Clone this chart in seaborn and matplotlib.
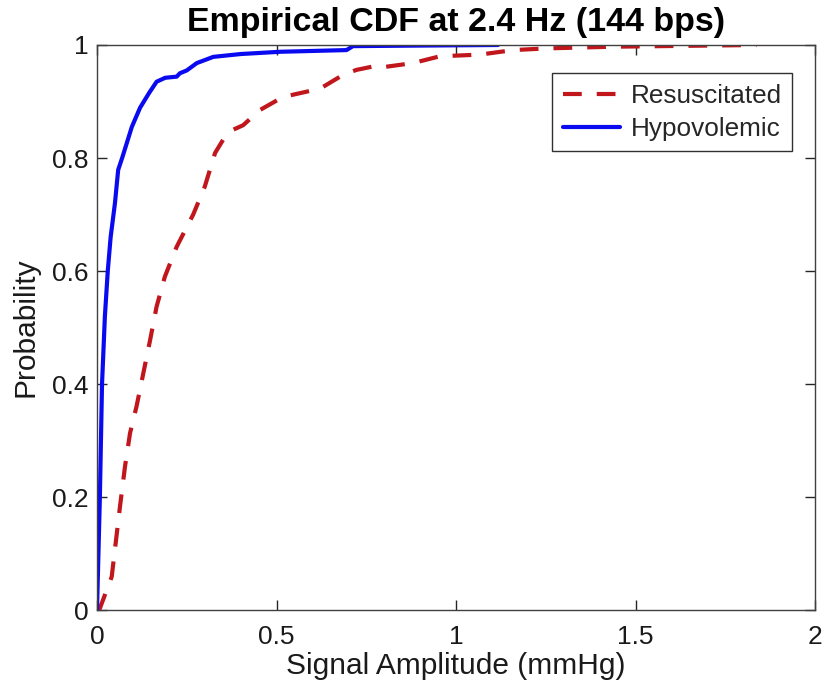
import numpy as np
import pandas as pd
import matplotlib
matplotlib.use("Agg")
import matplotlib.pyplot as plt
import matplotlib.ticker as mticker
import seaborn as sns

# Resuscitated (red dashed)
resus_x = [0.0, 0.008, 0.041, 0.064, 0.078, 0.092, 0.110, 0.129, 0.148, 0.166, 0.189,
           0.222, 0.268, 0.300, 0.329, 0.351, 0.379, 0.407, 0.454, 0.518, 0.602,
           0.630, 0.685, 0.723, 0.769, 0.788, 0.880, 0.955, 1.067, 1.159, 1.253,
           1.440, 1.837]
resus_y = [0.0, 0.003, 0.059, 0.183, 0.254, 0.313, 0.360, 0.419, 0.478, 0.537, 0.590,
           0.643, 0.700, 0.749, 0.809, 0.832, 0.850, 0.858, 0.885, 0.908, 0.920,
           0.926, 0.947, 0.956, 0.962, 0.960, 0.968, 0.980, 0.983, 0.991, 0.994,
           0.997, 1.000]

# Hypovolemic (blue solid)
hypo_x = [0.0, 0.004, 0.008, 0.014, 0.022, 0.030, 0.038, 0.050, 0.059, 0.070, 0.097,
          0.120, 0.145, 0.166, 0.190, 0.222, 0.231, 0.250, 0.278, 0.324, 0.400,
          0.510, 0.695, 0.713, 0.900, 1.117]
hypo_y = [0.0, 0.10, 0.20, 0.40, 0.52, 0.60, 0.66, 0.72, 0.779, 0.80, 0.855,
          0.889, 0.915, 0.935, 0.942, 0.944, 0.950, 0.955, 0.968, 0.979, 0.984,
          0.988, 0.991, 0.998, 0.999, 1.000]

xticks = [0, 0.5, 1, 1.5, 2]
yticks = [0, 0.2, 0.4, 0.6, 0.8, 1]

sns.set_theme(style="white")
plt.rcParams['font.family'] = ['Liberation Sans', 'DejaVu Sans']

fig = plt.figure(figsize=(8.22, 6.87), dpi=100)
ax = fig.add_axes([0.118, 0.112, 0.8735, 0.8225])

df_r = pd.DataFrame({"x": resus_x, "y": resus_y})
df_h = pd.DataFrame({"x": hypo_x, "y": hypo_y})

LW = 3.0
sns.lineplot(data=df_r, x="x", y="y", ax=ax, color="#C0161C", linewidth=LW,
             label="Resuscitated", sort=False)
ax.lines[-1].set_dashes((4.5, 3.6))
sns.lineplot(data=df_h, x="x", y="y", ax=ax, color="#0A0AF0", linewidth=LW,
             label="Hypovolemic", sort=False)

ax.set_xlim(0, 2)
ax.set_ylim(0, 1)
ax.set_xticks(xticks)
ax.set_yticks(yticks)
ax.xaxis.set_major_formatter(mticker.FormatStrFormatter('%g'))
ax.yaxis.set_major_formatter(mticker.FormatStrFormatter('%g'))
ax.tick_params(direction='in', length=7, width=1, colors='#262626',
               labelcolor='#1a1a1a', labelsize=19, top=True, right=True,
               bottom=True, left=True)
ax.tick_params(axis='x', pad=11)
ax.tick_params(axis='y', pad=6)
for s in ax.spines.values():
    s.set_color('#404040')
    s.set_linewidth(1.0)
    s.set_visible(True)

ax.set_xlabel("Signal Amplitude (mmHg)", fontsize=21.5, color='#1a1a1a', labelpad=2)
ax.set_ylabel("Probability", fontsize=21.5, color='#1a1a1a')
ax.yaxis.set_label_coords(-0.08, 0.5)
ax.set_title("Empirical CDF at 2.4 Hz (144 bps)", fontsize=24.5, fontweight='bold',
             color='black', pad=10)

leg = ax.legend(loc='upper right', bbox_to_anchor=(0.968, 0.950), borderaxespad=0,
                fontsize=18.8, frameon=True, fancybox=False, handlelength=2.2,
                handletextpad=0.4, borderpad=0.4, labelspacing=0.35)
leg.get_frame().set_edgecolor('#303030')
leg.get_frame().set_linewidth(1.0)
leg.get_frame().set_alpha(1)
for h in leg.get_lines():
    h.set_linewidth(LW)

fig.savefig("out.png", dpi=100)
